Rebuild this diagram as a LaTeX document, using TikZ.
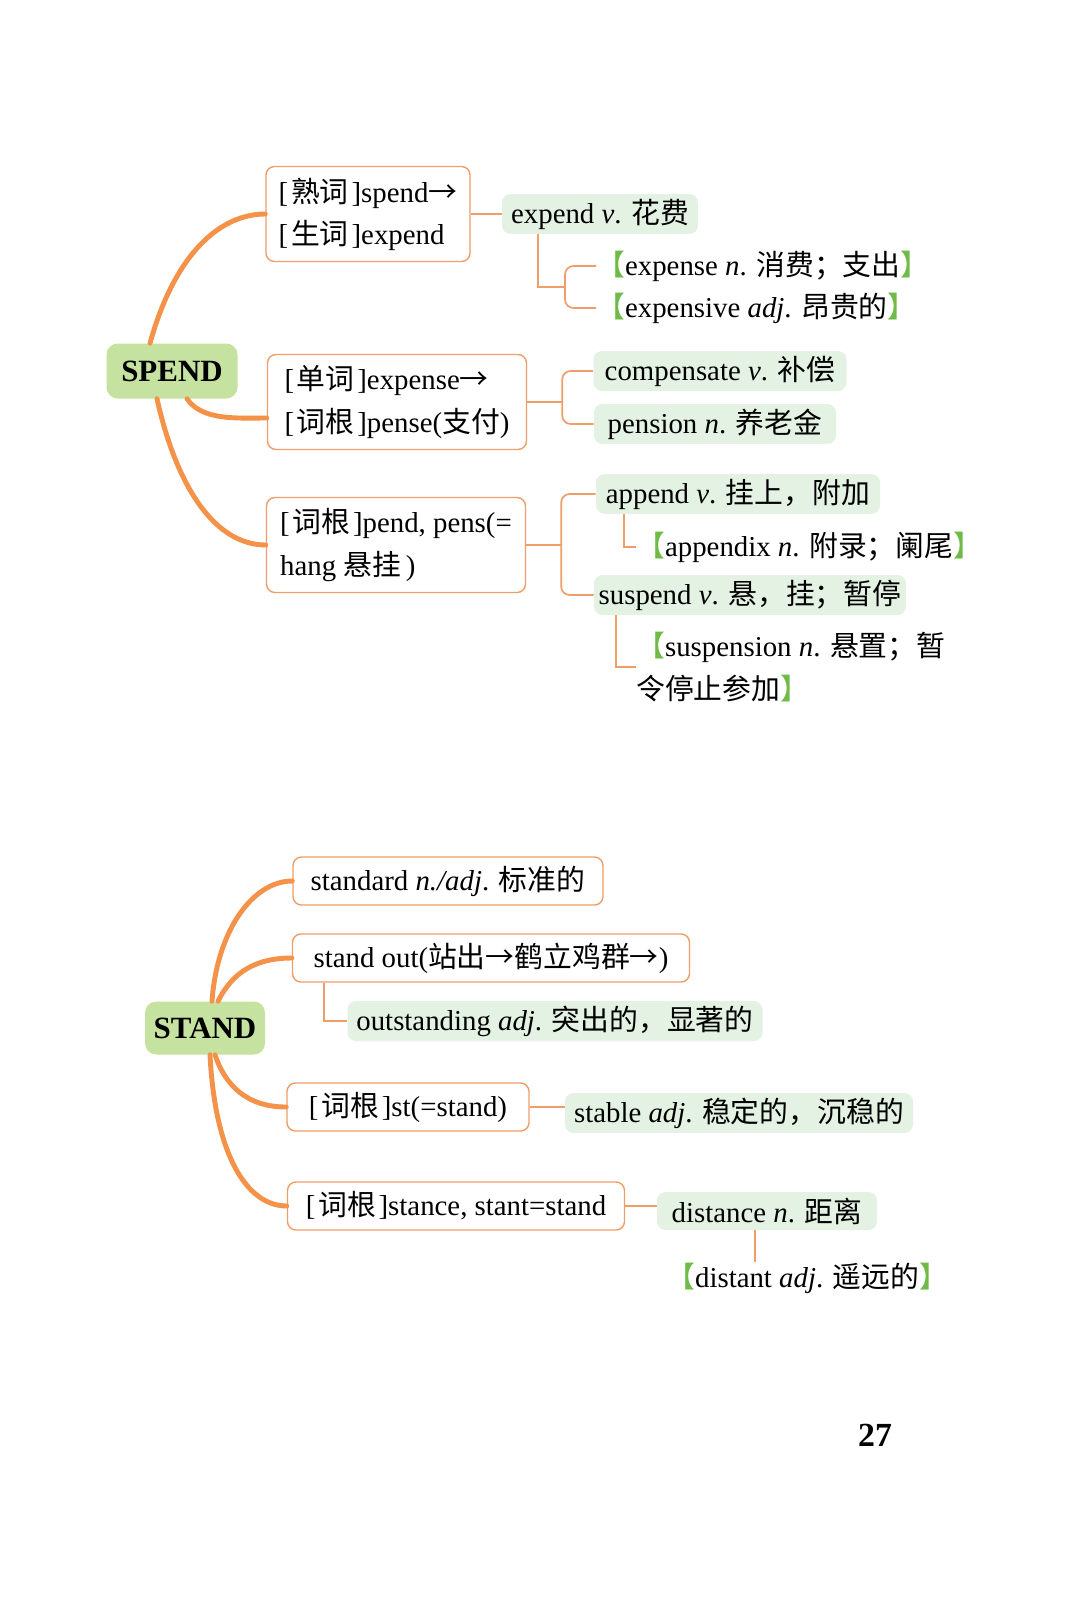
\documentclass[tikz,border=0pt]{standalone}
\usepackage{fontspec}
\setmainfont{Liberation Serif}
\newfontfamily\cjk{Noto Sans CJK SC}
\definecolor{leafgreen}{RGB}{198,226,160}
\definecolor{palegreen}{RGB}{228,242,228}
\definecolor{branchorange}{RGB}{243,146,72}
\definecolor{lineorange}{RGB}{240,158,105}
\definecolor{brackgreen}{RGB}{112,186,72}
\newcommand\pxu{0.025cm}
\newcommand\zh[1]{{\cjk #1}}
\newcommand\cg[1]{[\kern2pt\zh{#1}\kern2pt]}
\newcommand\ar{\zh{→}}
\newcommand\lbk{{\color{brackgreen}\zh{【}}}
\newcommand\rbk{{\color{brackgreen}\zh{】}}}
\tikzset{
  root/.style={fill=leafgreen, rounded corners=8pt, font=\bfseries\fontsize{22}{26}\selectfont},
  wordbox/.style={draw=lineorange, line width=1pt, fill=white, rounded corners=6pt, align=left, minimum height=48*\pxu},
  meaning/.style={fill=palegreen, rounded corners=6pt, minimum height=38*\pxu},
  leaf/.style={align=left, inner sep=0pt},
  branch/.style={draw=branchorange, line width=3.5pt, line cap=round},
  link/.style={draw=lineorange, line width=1.2pt}
}
\begin{document}
\begin{tikzpicture}[x=0.025cm, y=-0.025cm, font=\fontsize{20.5}{30}\selectfont]
\fill [white] (0,0) rectangle (1080,1598);

% SPEND
\node [root, minimum width=131*\pxu, minimum height=55*\pxu] (spend) at (172,371) {SPEND};
\node [wordbox, minimum width=204*\pxu, minimum height=95*\pxu] (b1) at (368,214) {\cg{熟词}spend\ar\\\cg{生词}expend};
\node [meaning, minimum width=196*\pxu] (d1) at (600,214) {expend \textit{v}. \zh{花费}};
\node [leaf, anchor=west] (e1) at (596,266) {\lbk expense \textit{n}. \zh{消费；支出}\rbk};
\node [leaf, anchor=west] (e2) at (596,308) {\lbk expensive \textit{adj}. \zh{昂贵的}\rbk};
\node [wordbox, minimum width=259*\pxu, minimum height=95*\pxu] (b2) at (397,402) {\cg{单词}expense\ar\\\cg{词根}pense(\zh{支付})};
\node [meaning, minimum width=253*\pxu] (c1) at (720,371) {compensate \textit{v}. \zh{补偿}};
\node [meaning, minimum width=242*\pxu] (c2) at (715,424) {pension \textit{n}. \zh{养老金}};
\node [wordbox, minimum width=259*\pxu, minimum height=95*\pxu] (b3) at (396,545) {\cg{词根}pend, pens(=\\hang \zh{悬挂}\,)};
\node [meaning, minimum width=284*\pxu] (a1) at (738,494) {append \textit{v}. \zh{挂上，附加}};
\node [leaf, anchor=west] (a2) at (636,547) {\lbk appendix \textit{n}. \zh{附录；阑尾}\rbk};
\node [meaning, minimum width=308*\pxu] (s1) at (750,595) {suspend \textit{v}. \zh{悬，挂；暂停}};
\node [leaf, anchor=west] (s2) at (636,667) {\lbk suspension \textit{n}. \zh{悬置；暂}\\\zh{令停止参加}\rbk};

\draw [branch] ([xshift=-22*\pxu]spend.north) .. controls +(25,-90) and +(-45,0) .. (b1.west);
\draw [branch] ([xshift=15*\pxu]spend.south) .. controls +(15,22) and +(-30,0) .. ([yshift=-16*\pxu]b2.west);
\draw [branch] ([xshift=-15*\pxu]spend.south) .. controls +(20,90) and +(-50,0) .. (b3.west);

\draw [link] (b1.east) -- (d1.west);
\coordinate (k1) at (565,287);
\draw [link] ([xshift=36*\pxu]d1.south west) |- (k1);
\draw [link, rounded corners=6pt] (e1.west) -| (k1) |- (e2.west);
\draw [link] (b2.east) -- ++(35,0) coordinate (k2);
\draw [link, rounded corners=6pt] (c1.west) -| (k2) |- (c2.west);
\draw [link] (b3.east) -- ++(35,0) coordinate (k3);
\draw [link, rounded corners=6pt] (a1.west) -| (k3) |- (s1.west);
\draw [link] ([xshift=28*\pxu]a1.south west) |- (a2.west);
\draw [link] ([xshift=22*\pxu]s1.south west) |- (s2.west);

% STAND
\node [root, minimum width=120*\pxu, minimum height=53*\pxu] (stand) at (205,1028) {STAND};
\node [wordbox, minimum width=310*\pxu] (t1) at (448,881) {standard \textit{n./adj}. \zh{标准的}};
\node [wordbox, minimum width=397*\pxu] (t2) at (491,958) {stand out(\zh{站出}\ar\zh{鹤立鸡群}\ar)};
\node [meaning, minimum width=415*\pxu] (o1) at (555,1021) {outstanding \textit{adj}. \zh{突出的，显著的}};
\node [wordbox, minimum width=242*\pxu] (t3) at (408,1107) {\cg{词根}st(=stand)};
\node [meaning, minimum width=348*\pxu] (o2) at (739,1113) {stable \textit{adj}. \zh{稳定的，沉稳的}};
\node [wordbox, minimum width=337*\pxu] (t4) at (456,1206) {\cg{词根}stance, stant=stand};
\node [meaning, minimum width=220*\pxu] (o3) at (767,1211) {distance \textit{n}. \zh{距离}};
\node [leaf, anchor=west] (o4) at (666,1278) {\lbk distant \textit{adj}. \zh{遥远的}\rbk};

\draw [branch] ([xshift=7*\pxu]stand.north) .. controls +(5,-70) and +(-40,0) .. (t1.west);
\draw [branch] ([xshift=13*\pxu]stand.north) .. controls +(15,-30) and +(-35,0) .. (t2.west);
\draw [branch] ([xshift=10*\pxu]stand.south) .. controls +(10,30) and +(-40,0) .. (t3.west);
\draw [branch] ([xshift=5*\pxu]stand.south) .. controls +(5,100) and +(-40,0) .. (t4.west);

\draw [link] ([xshift=32*\pxu]t2.south west) |- (o1.west);
\draw [link] (t3.east) -- (t3.east -| o2.west);
\draw [link] (t4.east) -- (t4.east -| o3.west);
\draw [link] ([xshift=-12*\pxu]o3.south) -- ([xshift=-12*\pxu]o3.south |- o4.north);

\node [font=\bfseries\fontsize{24}{28}\selectfont] (pg) at (875,1435) {27};
\end{tikzpicture}
\end{document}
